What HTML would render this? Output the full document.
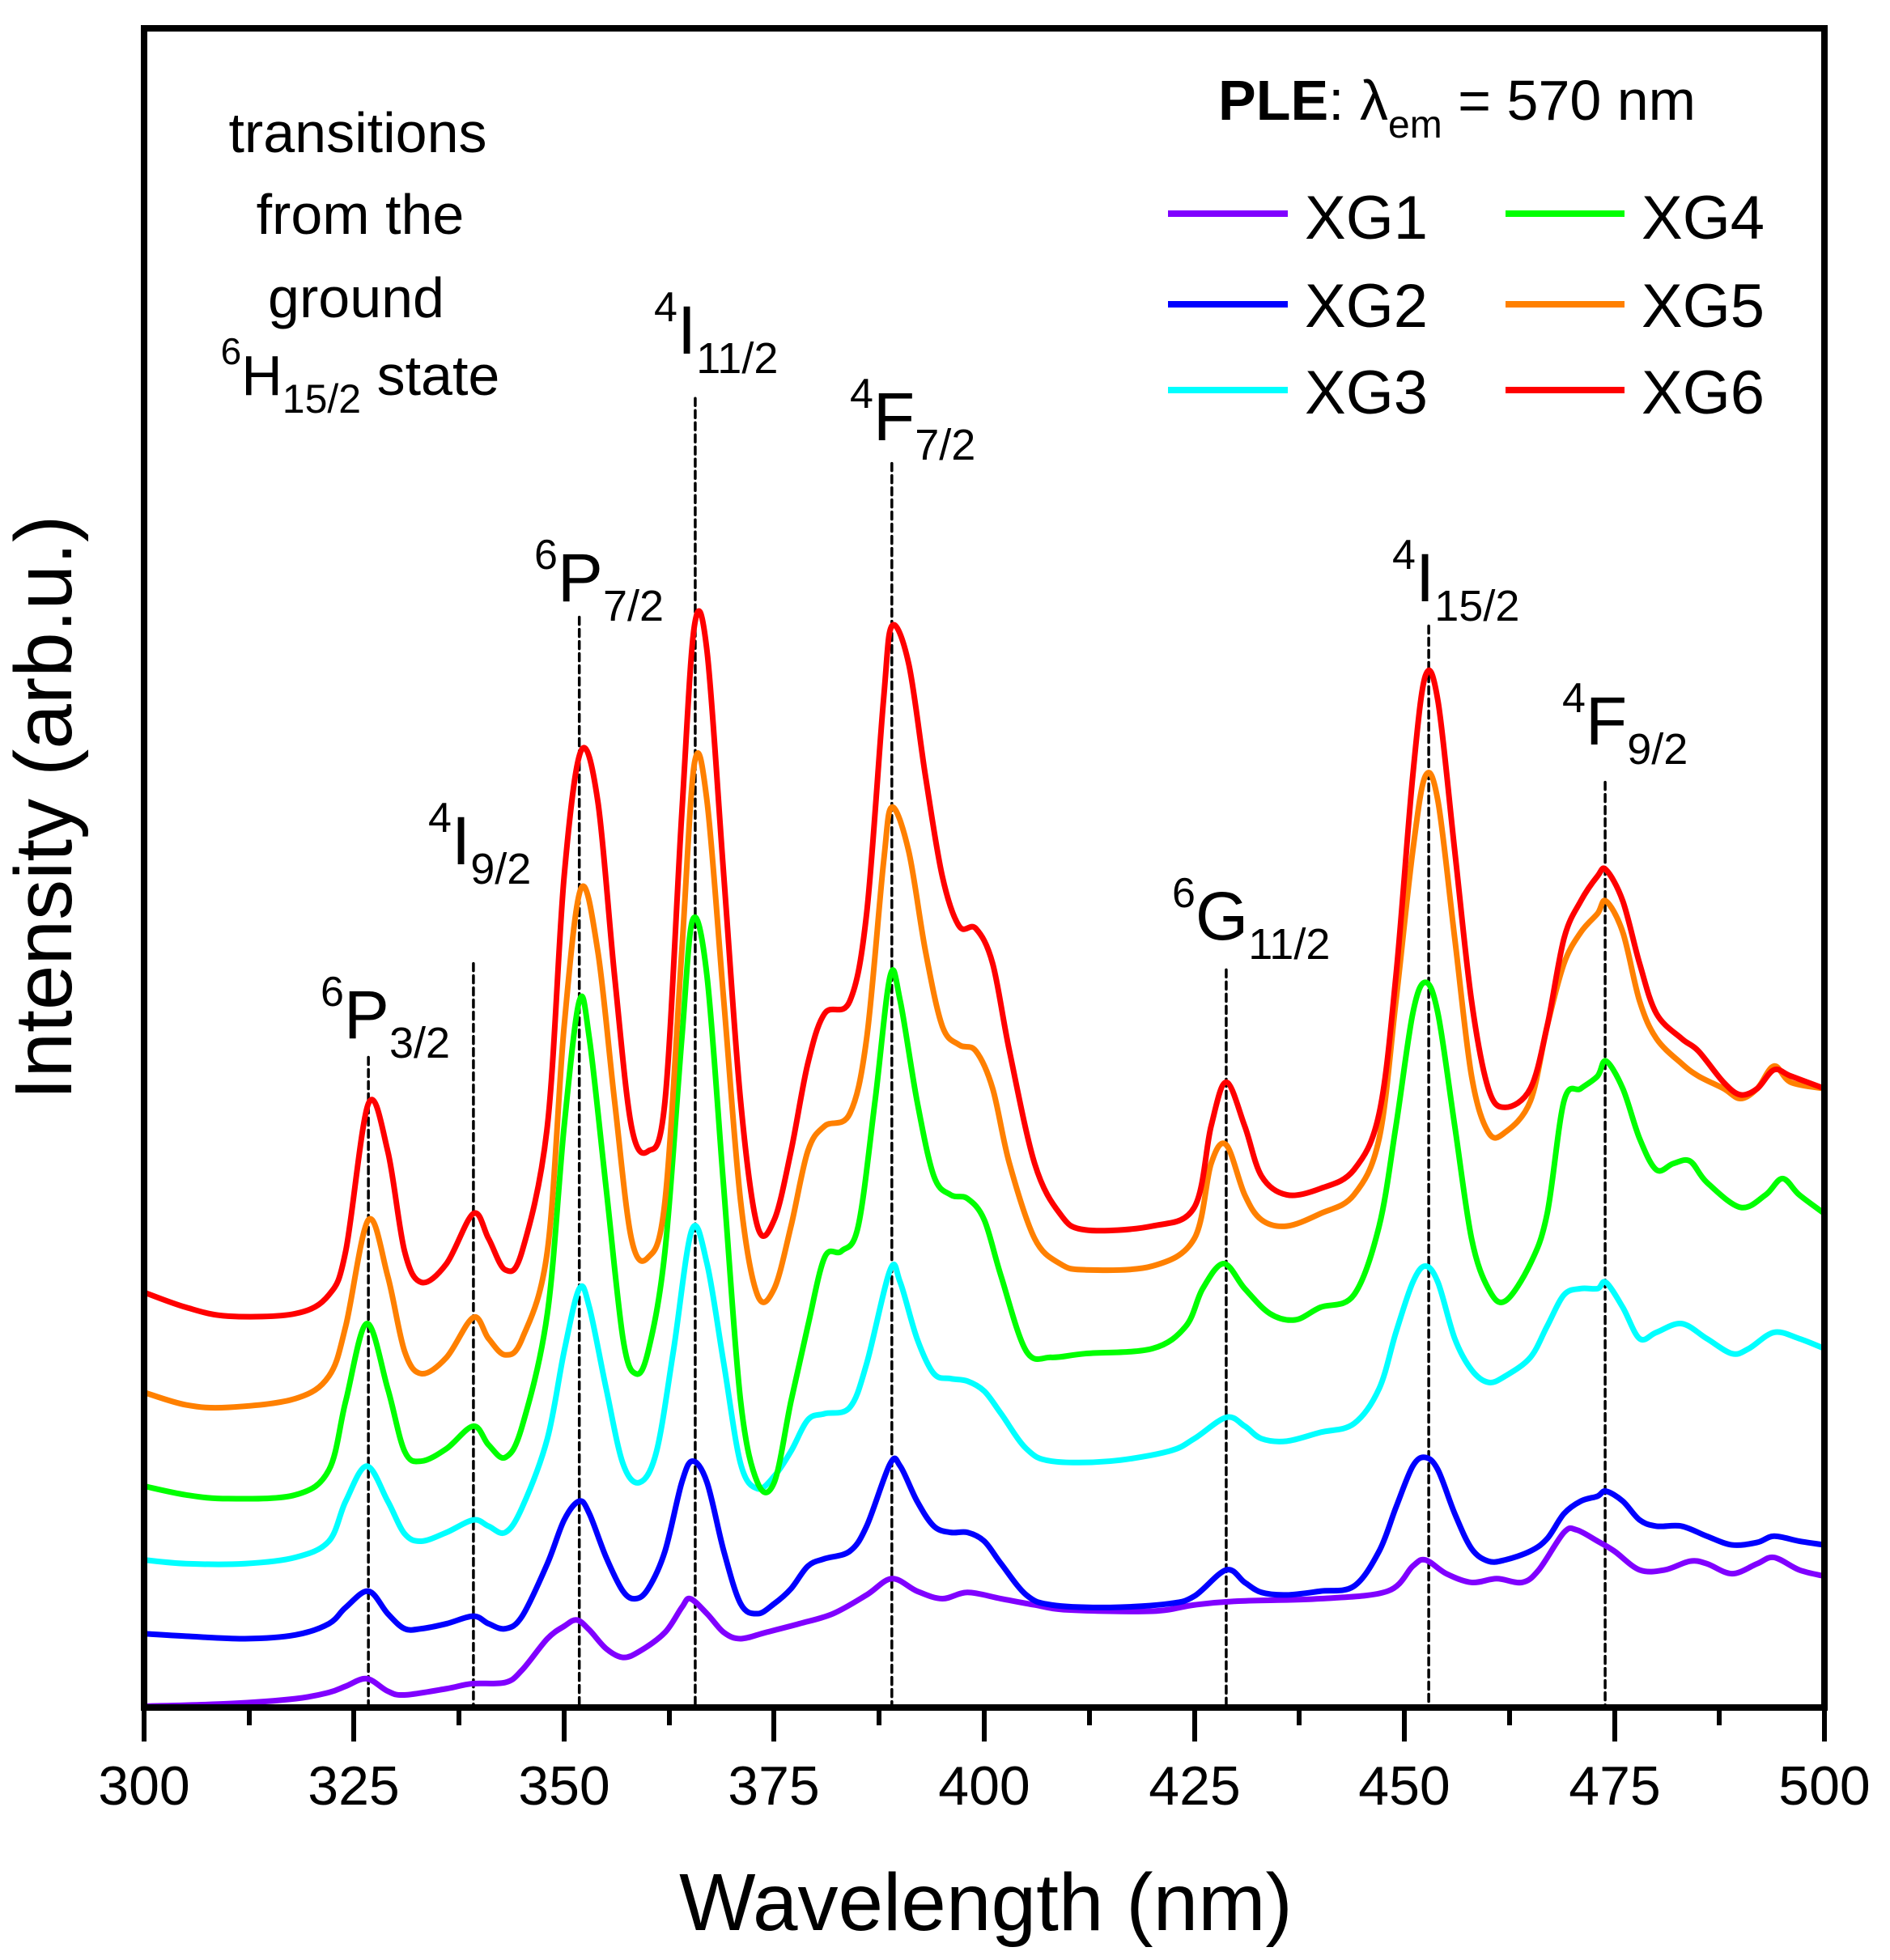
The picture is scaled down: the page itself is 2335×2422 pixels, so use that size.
<!DOCTYPE html>
<html><head><meta charset="utf-8"><style>
html,body{margin:0;padding:0;background:#fff}
svg{display:block}
text{font-family:"Liberation Sans",Arial,sans-serif;fill:#000}
</style></head><body>
<svg width="2335" height="2422" viewBox="0 0 2335 2422" xmlns="http://www.w3.org/2000/svg">
<rect width="2335" height="2422" fill="#fff"/>
<g id="plot" transform="matrix(10.38,0,0,1.545,-2936,1)" fill="none" stroke-linejoin="round" stroke-linecap="round">
<g stroke="#000" stroke-width="3.5" stroke-dasharray="9,6">
<line x1="326.7" y1="845" x2="326.7" y2="1365" vector-effect="non-scaling-stroke"/>
<line x1="339.2" y1="770" x2="339.2" y2="1365" vector-effect="non-scaling-stroke"/>
<line x1="351.8" y1="493" x2="351.8" y2="1365" vector-effect="non-scaling-stroke"/>
<line x1="365.6" y1="318" x2="365.6" y2="1365" vector-effect="non-scaling-stroke"/>
<line x1="389" y1="370" x2="389" y2="1365" vector-effect="non-scaling-stroke"/>
<line x1="428.8" y1="775" x2="428.8" y2="1365" vector-effect="non-scaling-stroke"/>
<line x1="452.9" y1="500" x2="452.9" y2="1365" vector-effect="non-scaling-stroke"/>
<line x1="473.9" y1="625" x2="473.9" y2="1365" vector-effect="non-scaling-stroke"/>
</g>
<polyline class="c" stroke="#8000ff" stroke-width="7" vector-effect="non-scaling-stroke" points="300,1364 310,1362 318,1358 322,1353 324,1348 326.5,1342 329,1352 331,1355 336,1350 339,1346 343,1345 345,1335 348,1310 350,1300 351.5,1295 353,1303 355,1318 357,1325 359,1320 362,1305 364,1285 365,1278 367,1290 369,1305 371,1310 374,1305 378,1298 382,1290 386,1275 389,1262 392,1272 395,1278 398,1273 402,1278 406,1283 410,1287 420,1288 425,1283 430,1280 440,1278 448,1272 451,1252 452.5,1247 455,1258 458,1265 461,1262 464,1265 466,1255 469,1225 470.5,1223 473,1232 475,1240 478,1255 481,1255 484,1248 486,1250 489,1258 492,1250 494,1245 497,1255 500,1260"/>
<polyline class="c" stroke="#0000ff" stroke-width="7" vector-effect="non-scaling-stroke" points="300,1306 305,1308 312,1310 318,1307 322,1298 324,1285 326.7,1272 329,1290 331,1302 333,1302 336,1298 339.2,1292 341,1298 343,1302 345,1292 348,1250 350,1215 351.8,1200 353,1210 355,1245 357,1272 358.5,1278 360,1270 362,1240 364,1185 365.3,1168 367,1185 369,1240 371,1282 373,1290 375,1282 377,1270 379,1252 381,1246 384,1240 386,1220 388.8,1170 390,1172 392,1200 394,1220 396,1225 398,1225 400,1232 402,1250 405,1275 408,1283 415,1285 422,1282 425,1276 428.8,1255 431,1265 433,1273 436,1275 440,1272 444,1268 447,1240 449,1205 451,1172 452.5,1165 454,1175 456,1210 458,1238 460,1248 462,1247 465,1240 467,1230 469,1210 471,1200 473,1196 474,1192 476,1200 478,1215 480,1220 483,1220 486,1228 489,1235 492,1233 494,1228 497,1232 500,1235"/>
<polyline class="c" stroke="#00ffff" stroke-width="7" vector-effect="non-scaling-stroke" points="300,1247 305,1250 312,1250 318,1245 322,1232 324,1200 326.5,1172 329,1200 331,1226 333,1232 336,1225 339.2,1215 341,1220 343,1225 345,1205 348,1150 350,1080 351.8,1030 353,1045 355,1110 357,1170 359,1185 361,1160 363,1080 365.2,983 367,1010 369,1090 371,1170 373,1190 375,1180 377,1160 379,1135 381,1130 384,1125 386,1090 388.8,1015 390,1025 392,1070 394,1098 396,1102 398,1104 400,1112 402,1130 405,1158 408,1168 415,1168 422,1160 425,1150 428.8,1133 431,1140 433,1150 436,1152 440,1145 444,1138 447,1110 449,1065 451,1025 452.5,1012 454,1025 456,1070 458,1095 460,1105 462,1100 465,1085 467,1060 469,1035 471,1030 473,1030 474,1025 476,1045 478,1070 480,1065 483,1058 486,1070 489,1082 491,1078 494,1065 497,1070 500,1078"/>
<polyline class="c" stroke="#00ff00" stroke-width="7" vector-effect="non-scaling-stroke" points="300,1188 305,1195 310,1198 318,1195 322,1175 324,1120 326.5,1058 329,1110 331,1160 333,1168 336,1158 339.2,1140 341,1155 343,1165 345,1140 348,1050 350,900 351.8,800 353,830 355,950 357,1070 358.5,1098 360,1080 362,1000 364,830 365.3,735 367,780 369,950 371,1120 373,1185 375,1185 377,1120 379,1060 381,1005 383,1000 385,980 387,880 388.8,780 390,800 392,880 394,940 396,955 398,958 400,975 402,1020 405,1080 408,1085 412,1082 420,1078 424,1060 426,1030 428.5,1010 431,1030 434,1050 437,1055 440,1045 444,1035 447,980 449,900 451,810 452.5,785 454,810 456,900 458,990 460,1030 462,1040 465,1010 467,970 469,880 471,870 473,860 474,848 476,870 478,910 480,935 482,930 484,928 486,945 490,965 493,955 495,942 497,955 500,970"/>
<polyline class="c" stroke="#ff8000" stroke-width="7" vector-effect="non-scaling-stroke" points="300,1113 305,1123 310,1125 318,1118 322,1100 324,1060 326.7,975 329,1020 331,1080 333,1098 336,1085 339.2,1053 341,1070 343,1083 345,1070 348,1000 350,820 352,710 354,760 356,880 358,990 360,1005 362,960 364,760 365.5,610 367,640 369,800 371,960 373,1035 375,1030 377,980 379,920 381,900 384,890 386,830 388,690 389,645 391,680 393,760 395,820 397,835 399,840 401,870 403,930 406,990 409,1010 412,1015 420,1012 425,990 427,930 428.8,915 431,955 433,975 436,980 440,970 444,955 447,910 449,800 451,680 452.5,620 454,640 456,750 458,860 460,905 462,905 465,880 467,820 469,770 471,745 473,730 474,720 476,745 478,800 480,830 483,850 485,860 488,870 490,878 492,870 494,852 496,865 500,870"/>
<polyline class="c" stroke="#ff0000" stroke-width="7" vector-effect="non-scaling-stroke" points="300,1033 305,1045 310,1052 318,1050 322,1035 324,1000 326.7,882 329,920 331,1000 333,1025 336,1010 339.2,970 341,990 343,1015 345,1000 348,900 350,700 352,600 354,640 356,780 358,900 360,920 362,880 364,650 365.5,500 367,520 369,700 371,880 373,980 375,975 377,920 379,850 381,810 384,800 386,730 388,560 389,500 391,530 393,620 395,700 397,740 399,742 401,770 403,840 406,930 409,970 412,983 420,980 425,965 427,900 428.8,865 431,900 433,940 436,955 440,950 444,935 447,890 449,780 451,620 452.5,540 454,560 456,680 458,800 460,870 462,885 465,870 467,820 469,750 471,720 473,700 474,695 476,720 478,770 480,810 483,830 485,840 488,865 490,875 492,870 494,855 496,860 500,870"/>
</g>
<rect x="178" y="35" width="2076" height="2075" fill="none" stroke="#000" stroke-width="8"/>
<g stroke="#000" stroke-width="6">
<line x1="178" y1="2110" x2="178" y2="2152"/><line x1="308" y1="2110" x2="308" y2="2132"/>
<line x1="437" y1="2110" x2="437" y2="2152"/><line x1="567" y1="2110" x2="567" y2="2132"/>
<line x1="697" y1="2110" x2="697" y2="2152"/><line x1="827" y1="2110" x2="827" y2="2132"/>
<line x1="956" y1="2110" x2="956" y2="2152"/><line x1="1086" y1="2110" x2="1086" y2="2132"/>
<line x1="1216" y1="2110" x2="1216" y2="2152"/><line x1="1346" y1="2110" x2="1346" y2="2132"/>
<line x1="1476" y1="2110" x2="1476" y2="2152"/><line x1="1605" y1="2110" x2="1605" y2="2132"/>
<line x1="1735" y1="2110" x2="1735" y2="2152"/><line x1="1865" y1="2110" x2="1865" y2="2132"/>
<line x1="1995" y1="2110" x2="1995" y2="2152"/><line x1="2124" y1="2110" x2="2124" y2="2132"/>
<line x1="2254" y1="2110" x2="2254" y2="2152"/>
</g>
<g font-size="68" text-anchor="middle">
<text x="178" y="2230">300</text><text x="437" y="2230">325</text><text x="697" y="2230">350</text>
<text x="956" y="2230">375</text><text x="1216" y="2230">400</text><text x="1476" y="2230">425</text>
<text x="1735" y="2230">450</text><text x="1995" y="2230">475</text><text x="2254" y="2230">500</text>
</g>
<text x="1218" y="2385" font-size="100" text-anchor="middle">Wavelength (nm)</text>
<text transform="translate(88,998) rotate(-90)" font-size="100" text-anchor="middle">Intensity (arb.u.)</text>
<g font-size="70" text-anchor="middle">
<text x="442" y="188">transitions</text>
<text x="445" y="289">from the</text>
<text x="440" y="392">ground</text>
<text x="445" y="488"><tspan font-size="46" dy="-38">6</tspan><tspan dy="38">H</tspan><tspan font-size="50" dy="22">15/2</tspan><tspan dy="-22"> state</tspan></text>
</g>
<text x="1505" y="148" font-size="70"><tspan font-weight="bold">PLE</tspan>: λ<tspan font-size="48" dy="22">em</tspan><tspan dy="-22"> = 570 nm</tspan></text>
<g stroke-width="8">
<line x1="1443" y1="264" x2="1591" y2="264" stroke="#8000ff"/>
<line x1="1443" y1="376" x2="1591" y2="376" stroke="#0000ff"/>
<line x1="1443" y1="482" x2="1591" y2="482" stroke="#00ffff"/>
<line x1="1860" y1="264" x2="2007" y2="264" stroke="#00ff00"/>
<line x1="1860" y1="376" x2="2007" y2="376" stroke="#ff8000"/>
<line x1="1860" y1="482" x2="2007" y2="482" stroke="#ff0000"/>
</g>
<g font-size="76">
<text x="1612" y="295">XG1</text><text x="1612" y="404">XG2</text><text x="1612" y="511">XG3</text>
<text x="2028" y="295">XG4</text><text x="2028" y="404">XG5</text><text x="2028" y="511">XG6</text>
</g>
<g font-size="84">
<text x="396" y="1283"><tspan font-size="52" dy="-40">6</tspan><tspan dy="40">P</tspan><tspan font-size="54" dy="24">3/2</tspan></text>
<text x="529" y="1068"><tspan font-size="52" dy="-40">4</tspan><tspan dy="40">I</tspan><tspan font-size="54" dy="24">9/2</tspan></text>
<text x="660" y="743"><tspan font-size="52" dy="-40">6</tspan><tspan dy="40">P</tspan><tspan font-size="54" dy="24">7/2</tspan></text>
<text x="808" y="437"><tspan font-size="52" dy="-40">4</tspan><tspan dy="40">I</tspan><tspan font-size="54" dy="24">11/2</tspan></text>
<text x="1050" y="544"><tspan font-size="52" dy="-40">4</tspan><tspan dy="40">F</tspan><tspan font-size="54" dy="24">7/2</tspan></text>
<text x="1448" y="1161"><tspan font-size="52" dy="-40">6</tspan><tspan dy="40">G</tspan><tspan font-size="54" dy="24">11/2</tspan></text>
<text x="1720" y="743"><tspan font-size="52" dy="-40">4</tspan><tspan dy="40">I</tspan><tspan font-size="54" dy="24">15/2</tspan></text>
<text x="1930" y="920"><tspan font-size="52" dy="-40">4</tspan><tspan dy="40">F</tspan><tspan font-size="54" dy="24">9/2</tspan></text>
</g>
</svg>
<script>
(function(){
var NS="http://www.w3.org/2000/svg";
var pls=document.querySelectorAll("polyline.c");
for(var i=0;i<pls.length;i++){
 var pl=pls[i];
 var pts=pl.getAttribute("points").trim().split(/\s+/).map(function(s){var a=s.split(",");return [parseFloat(a[0]),parseFloat(a[1])];});
 var d="M"+pts[0][0]+","+pts[0][1];
 for(var k=0;k<pts.length-1;k++){
  var p0=pts[k>0?k-1:0],p1=pts[k],p2=pts[k+1],p3=pts[k+2<pts.length?k+2:k+1];
  var c1x=p1[0]+(p2[0]-p0[0])/6,c1y=p1[1]+(p2[1]-p0[1])/6;
  var c2x=p2[0]-(p3[0]-p1[0])/6,c2y=p2[1]-(p3[1]-p1[1])/6;
  d+=" C"+c1x+","+c1y+" "+c2x+","+c2y+" "+p2[0]+","+p2[1];
 }
 var p=document.createElementNS(NS,"path");
 p.setAttribute("d",d);
 p.setAttribute("stroke",pl.getAttribute("stroke"));
 p.setAttribute("stroke-width","7");
 p.setAttribute("vector-effect","non-scaling-stroke");
 pl.parentNode.replaceChild(p,pl);
}
})();
</script>
</body></html>
